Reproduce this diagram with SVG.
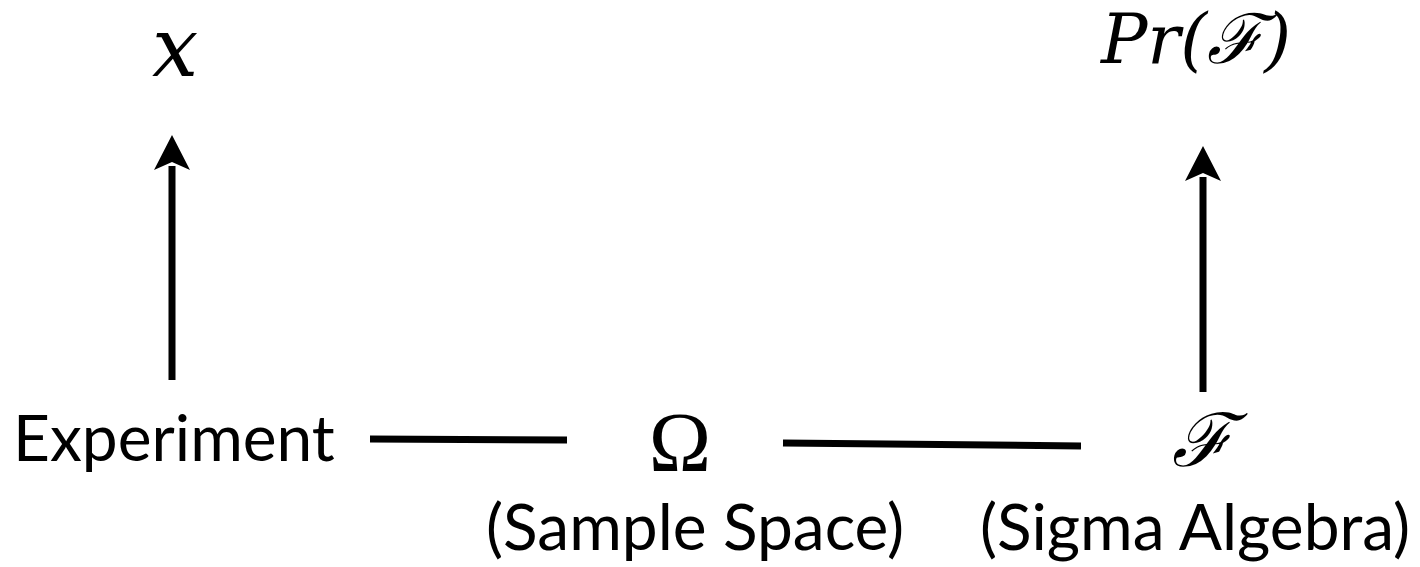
<svg xmlns="http://www.w3.org/2000/svg" width="1420" height="567" viewBox="0 0 1420 567">
<style>
.math{font-family:"DejaVu Serif",serif;font-style:italic;fill:#000}
.lbl{font-family:Lato,"Noto Sans",sans-serif;fill:#000}
.conn{stroke:#000;stroke-width:7;fill:none}
</style>
<g id="node-x"><text class="math" x="175" y="76" font-size="82" text-anchor="middle">x</text></g>
<g id="node-pr"><text class="math" x="1196" y="63" font-size="69" text-anchor="middle">Pr(ℱ)</text></g>
<g id="node-experiment"><text class="lbl" x="13" y="461" font-size="64">Experiment</text></g>
<g id="node-omega"><text x="680" y="471" font-family="Liberation Serif, serif" font-size="84" text-anchor="middle">Ω</text><text class="lbl" x="695" y="550" font-size="64" text-anchor="middle">(Sample Space)</text></g>
<g id="node-f"><text class="math" x="1202" y="466" font-size="74" text-anchor="middle">ℱ</text><text class="lbl" x="1195" y="550" font-size="64" text-anchor="middle">(Sigma Algebra)</text></g>
<g id="connectors">
<line class="conn" x1="370" y1="439" x2="567" y2="440"/>
<line class="conn" x1="783" y1="443" x2="1081" y2="446"/>
<path d="M172,380 L172,166" class="conn"/>
<path d="M172,135 L154,170 L172,162 L190,170 Z" fill="#000"/>
<path d="M1203,392 L1203,177" class="conn"/>
<path d="M1203,146 L1185,181 L1203,173 L1221,181 Z" fill="#000"/>
</g>
</svg>
